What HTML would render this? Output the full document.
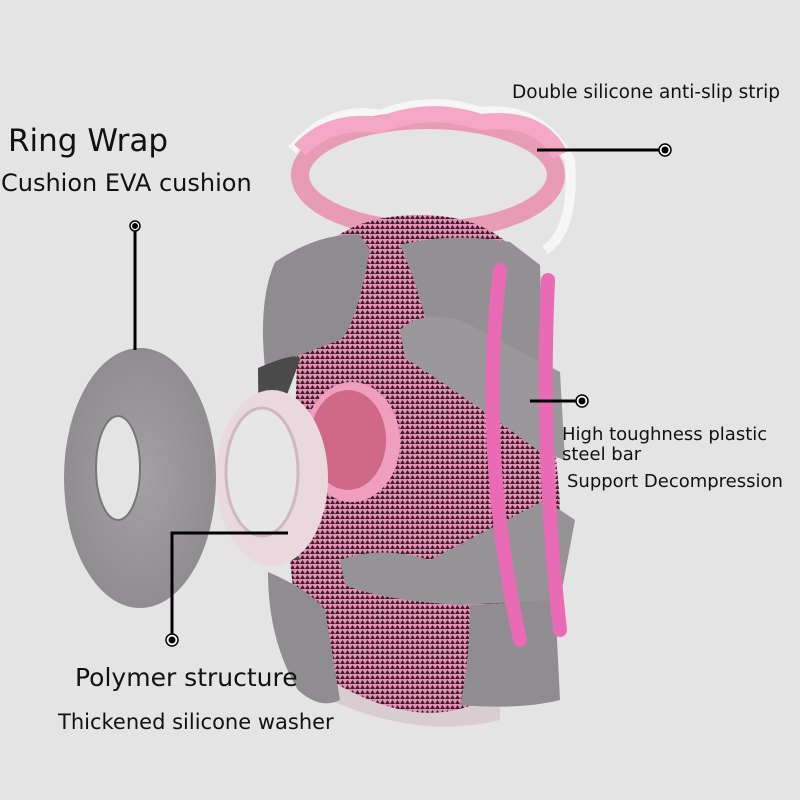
<!DOCTYPE html>
<html><head><meta charset="utf-8"><style>
html,body{margin:0;padding:0;background:#e4e4e4;}
svg{display:block}
text{font-family:"DejaVu Sans","Liberation Sans",sans-serif;fill:#111}
</style></head><body>
<svg width="800" height="800" viewBox="0 0 800 800" xmlns="http://www.w3.org/2000/svg">
<defs>
<pattern id="mesh" width="5" height="5" patternUnits="userSpaceOnUse">
<rect width="5" height="5" fill="#e58fb4"/>
<polygon points="0,4 2.5,0 5,4" fill="#3a1e28"/>
</pattern>
<radialGradient id="disc" cx="0.5" cy="0.5" r="0.5">
<stop offset="0" stop-color="#a3a1a3"/><stop offset="1" stop-color="#8f8d8f"/>
</radialGradient>
</defs>
<rect width="800" height="800" fill="#e4e4e4"/>

<!-- top ring -->
<path d="M292,150 Q330,105 380,115 Q430,95 480,112 Q540,105 570,160 Q575,230 545,250" fill="none" stroke="#f6f6f6" stroke-width="10"/>
<ellipse cx="428" cy="175" rx="128" ry="55" fill="none" stroke="#e89bb5" stroke-width="18"/>
<path d="M300,150 Q330,118 380,125 Q430,105 480,122 Q540,115 560,155" fill="none" stroke="#f5a8c3" stroke-width="16"/>

<!-- body -->
<path d="M300,280 Q330,215 420,215 Q510,215 540,290 L560,500 Q560,640 500,700 Q430,730 360,710 Q300,680 290,560 Z" fill="url(#mesh)"/>
<path d="M330,680 Q430,740 500,690 L500,720 Q420,740 330,700Z" fill="#d9cdd2"/>

<!-- hole -->
<ellipse cx="352" cy="442" rx="48" ry="60" fill="#f09ec0"/>
<ellipse cx="348" cy="440" rx="38" ry="50" fill="#d06887"/>

<!-- gray pads -->
<path d="M275,262 Q320,232 360,235 L370,250 Q355,330 340,340 L265,368 Q258,300 275,262Z" fill="#8e8c8e"/>
<path d="M400,245 Q450,232 510,242 L540,265 L545,420 L520,430 Q470,380 430,340 Q420,290 400,245Z" fill="#929092"/>
<path d="M400,330 Q420,310 460,320 L560,372 L565,460 L540,452 Q470,400 405,358Z" fill="#9a989a"/>
<path d="M258,368 Q300,350 300,360 L285,400 L280,520 L300,560 L260,560 Z" fill="#4a4a4a"/>
<path d="M340,560 Q380,545 430,560 L545,500 L575,520 L560,600 L460,605 Q380,600 345,585Z" fill="#959395"/>
<path d="M268,572 Q310,590 325,610 L340,700 Q320,710 298,690 Q268,640 268,572Z" fill="#8f8d8f"/>
<path d="M470,605 L555,600 L560,700 Q520,710 460,705 Q470,660 470,605Z" fill="#8f8d8f"/>

<!-- pink bars -->
<path d="M500,270 Q478,450 520,640" fill="none" stroke="#ea6bb5" stroke-width="14" stroke-linecap="round"/>
<path d="M548,280 Q540,450 560,630" fill="none" stroke="#ea6bb5" stroke-width="14" stroke-linecap="round"/>

<!-- EVA disc -->
<ellipse cx="140" cy="478" rx="76" ry="130" fill="url(#disc)"/>
<ellipse cx="118" cy="468" rx="22" ry="52" fill="#e4e4e4" stroke="#777" stroke-width="2"/>

<!-- washer -->
<ellipse cx="272" cy="478" rx="56" ry="88" fill="#e9d9de"/>
<ellipse cx="262" cy="472" rx="36" ry="64" fill="#e6e6e6" stroke="#d0b8c0" stroke-width="3"/>

<!-- leaders -->
<g stroke="#000" stroke-width="3" fill="none">
<line x1="135" y1="228" x2="135" y2="350"/>
<polyline points="172,640 172,533 288,533"/>
<line x1="537" y1="150" x2="660" y2="150"/>
<line x1="530" y1="401" x2="577" y2="401"/>
</g>
<g fill="#fff" stroke="#000" stroke-width="1.5">
<circle cx="135" cy="226" r="5"/><circle cx="172" cy="640" r="6"/>
<circle cx="665" cy="150" r="6"/><circle cx="582" cy="401" r="6"/>
</g>
<g fill="#000"><circle cx="135" cy="226" r="3"/><circle cx="172" cy="640" r="3.5"/><circle cx="665" cy="150" r="3.5"/><circle cx="582" cy="401" r="3.5"/></g>

<!-- text -->
<text x="8" y="151" font-size="31">Ring Wrap</text>
<text x="1" y="191" font-size="24">Cushion EVA cushion</text>
<text x="512" y="98" font-size="18.5">Double silicone anti-slip strip</text>
<text x="562" y="440" font-size="18">High toughness plastic</text>
<text x="562" y="460" font-size="18">steel bar</text>
<text x="567" y="487" font-size="18">Support Decompression</text>
<text x="75" y="686" font-size="25">Polymer structure</text>
<text x="58" y="729" font-size="21">Thickened silicone washer</text>
</svg>
</body></html>
